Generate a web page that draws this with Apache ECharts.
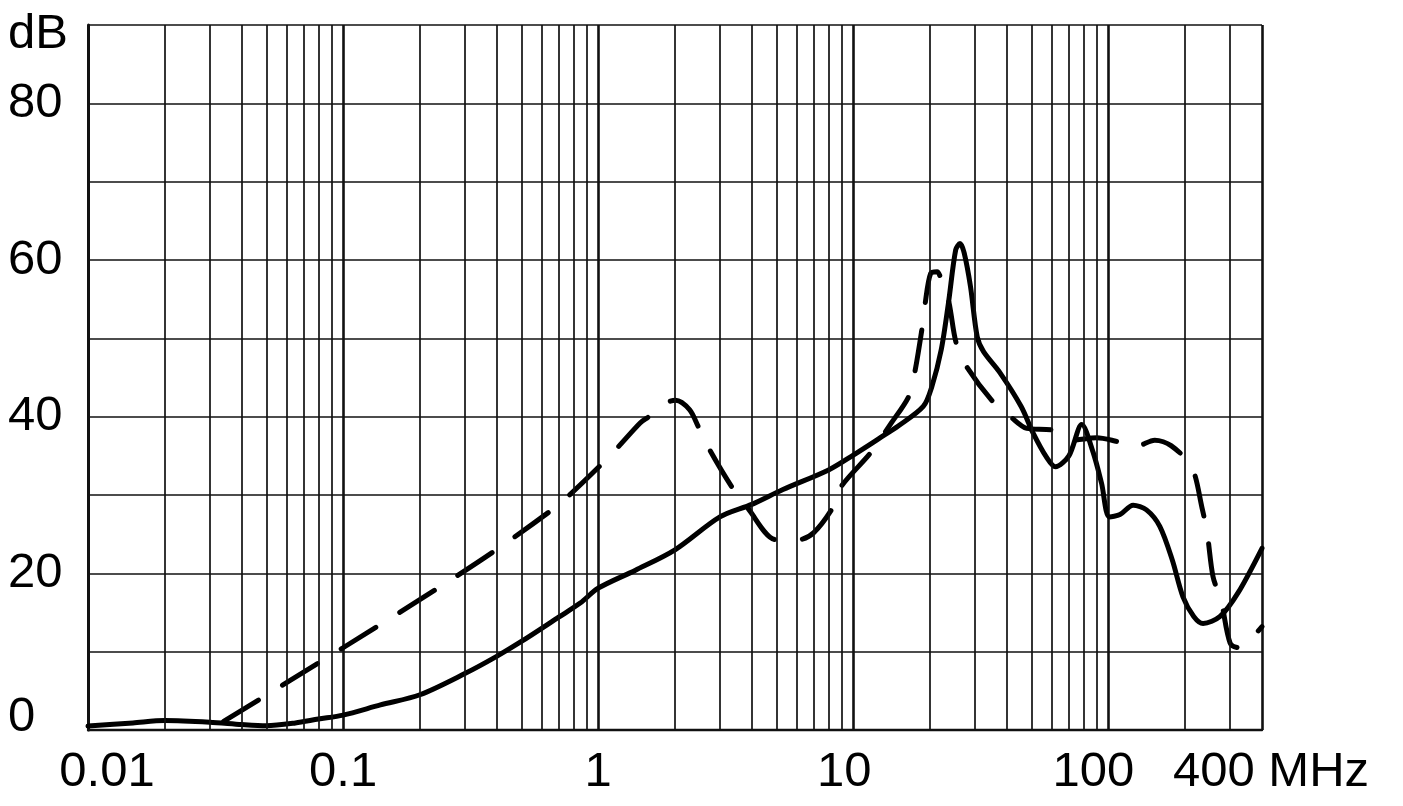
<!DOCTYPE html>
<html><head><meta charset="utf-8">
<script src="https://cdn.jsdelivr.net/npm/echarts@6/dist/echarts.min.js"></script>
<style>html,body{margin:0;padding:0;background:#fff}#c{width:1403px;height:806px}</style>
</head><body><div id="c"></div>
<script>
// Solid curve (MHz, dB)
const solidFreq = [0.01,0.015,0.02,0.03,0.04,0.05,0.065,0.08,0.1,0.14,0.2,0.3,0.4,0.5,0.7,0.85,1.0,1.4,2.0,3.0,4.0,5.3,8.0,10,12.6,15,18.8,20.3,22.1,23.6,25.2,26.2,27.2,28.8,30.6,32.4,37.6,45.5,50.7,57,62,70,78.6,87,94,101,111,125,141,159,178,196,216,235,274,322,400];
const solidDb   = [0.5,0.9,1.2,1.0,0.7,0.55,0.9,1.4,1.9,3.2,4.5,7.2,9.4,11.3,14.4,16.2,18.1,20.4,23.0,27.2,28.8,30.7,33.2,35.1,37.2,38.8,41.3,43.8,48.5,54.5,61.3,62.1,60.9,56.6,50.2,48.3,45.6,41.3,37.9,34.9,33.6,35.0,39.0,35.5,31.5,27.2,27.5,28.7,28.1,26.0,21.7,17.0,14.5,13.6,14.5,17.5,23.2];
// Dashed curve (MHz, dB)
const dashedFreq = [0.02,0.03,0.1,0.23,0.39,0.64,0.76,1.0,1.18,1.46,1.58,1.86,2.01,2.28,2.47,2.71,3.33,3.86,4.98,6.12,7.0,8.35,8.97,11.7,14.1,16.5,17.4,18.6,19.1,20.1,21.3,21.9,23.6,25.3,27.8,35.3,41.3,47.9,60,72,90,106,128,152,176,212,233,244,257,277,300,325,350,400];
const dashedDb   = [-3.5,0,10.5,17.9,22.8,27.8,29.8,33.5,35.9,39.2,40.0,41.8,42.1,40.9,38.7,36.0,31.1,28.3,24.3,24.3,25.2,28.5,31.1,35.4,39.2,42.6,45.6,51.3,54.3,58.3,58.5,57.9,54.9,49.4,46.4,41.9,40.0,38.5,38.3,37.0,37.3,36.9,36.2,37.0,36.3,33.6,28.3,25.1,19.6,16.4,11.1,10.5,11.1,13.2];
// Axis tick labels
const xTickLabels = {'-2':'0.01','-1':'0.1','0':'1','1':'10','2':'100'};
const xMaxLabel = '400 MHz';
const yTickLabels = {0:'0',20:'20',40:'40',60:'60',80:'80',90:'dB'};
// Minor vertical gridlines (MHz)
const minorGridFreqs = [0.02,0.03,0.04,0.05,0.06,0.07,0.08,0.09,
  0.2,0.3,0.4,0.5,0.6,0.7,0.8,0.9,
  2,3,4,5,6,7,8,9,
  20,30,40,50,60,70,80,90,
  200,300];

const FONT = '"Liberation Sans", Arial, Helvetica, sans-serif';
const INK = '#111';
const FS = 49;

const chart = echarts.init(document.getElementById('c'), null, {renderer:'canvas'});
const zip = (a,b) => a.map((v,i)=>[v,b[i]]);
const txt = (extra) => Object.assign({fontSize:FS,fontFamily:FONT,color:'#000'}, extra);

chart.setOption({
  animation:false,
  backgroundColor:'#fff',
  grid:{left:88,right:141,top:25,bottom:76,containLabel:false},
  xAxis:{
    type:'log', logBase:10, min:0.01, max:400,
    axisLine:{show:true,onZero:false,lineStyle:{color:INK,width:2.4}},
    axisTick:{show:false},
    splitLine:{show:true,lineStyle:{color:INK,width:2.6}},
    axisLabel:{
      show:true, margin:18, color:'#000', fontSize:FS, fontFamily:FONT,
      showMinLabel:true, showMaxLabel:true,
      formatter:function(v){
        if (v > 300) return '{mx|' + xMaxLabel + '}';
        const e = Math.round(Math.log10(v));
        const t = xTickLabels[String(e)] || '';
        if (e === -2) return '{first|' + t + '}';
        if (e === 2) return '{hund|' + t + '}';
        if (e === 1) return '{ten|' + t + '}';
        return t;
      },
      rich:{
        first: txt({padding:[0,0,0,38]}),
        hund: txt({padding:[0,30,0,0]}),
        ten: txt({padding:[0,18,0,0]}),
        mx: txt({padding:[0,0,0,18]})
      }
    }
  },
  yAxis:{
    type:'value', min:0, max:90, interval:10,
    axisLine:{show:true,lineStyle:{color:INK,width:3}},
    axisTick:{show:false},
    splitLine:{show:true,lineStyle:{color:INK,width:1.7}},
    axisLabel:{
      show:true, align:'left', margin:80, color:'#000', fontSize:FS, fontFamily:FONT,
      formatter:function(v){
        const t = yTickLabels[v];
        if (t === undefined) return '';
        if (v === 0) return '{lo|' + t + '}';
        if (v === 90) return '{db|' + t + '}';
        return t;
      },
      rich:{
        lo: txt({padding:[0,0,26,0]}),
        db: txt({padding:[18,0,0,0]})
      }
    }
  },
  series:[
    {
      type:'line', data:[], z:1, silent:true,
      markLine:{
        silent:true, symbol:'none', animation:false,
        label:{show:false},
        lineStyle:{type:'solid',color:INK,width:1.7},
        data: minorGridFreqs.map(f=>({xAxis:f}))
      }
    },
    {
      name:'solid', type:'line', z:3, showSymbol:false, symbol:'none',
      smooth:0.3, clip:true,
      lineStyle:{color:'#000',width:5,cap:'round',join:'round'},
      data: zip(solidFreq, solidDb)
    },
    {
      name:'dashed', type:'line', z:3, showSymbol:false, symbol:'none',
      smooth:0.3, clip:true,
      lineStyle:{color:'#000',width:5,type:[41,28],cap:'round',join:'round'},
      data: zip(dashedFreq, dashedDb)
    }
  ]
});
</script>
</body></html>
